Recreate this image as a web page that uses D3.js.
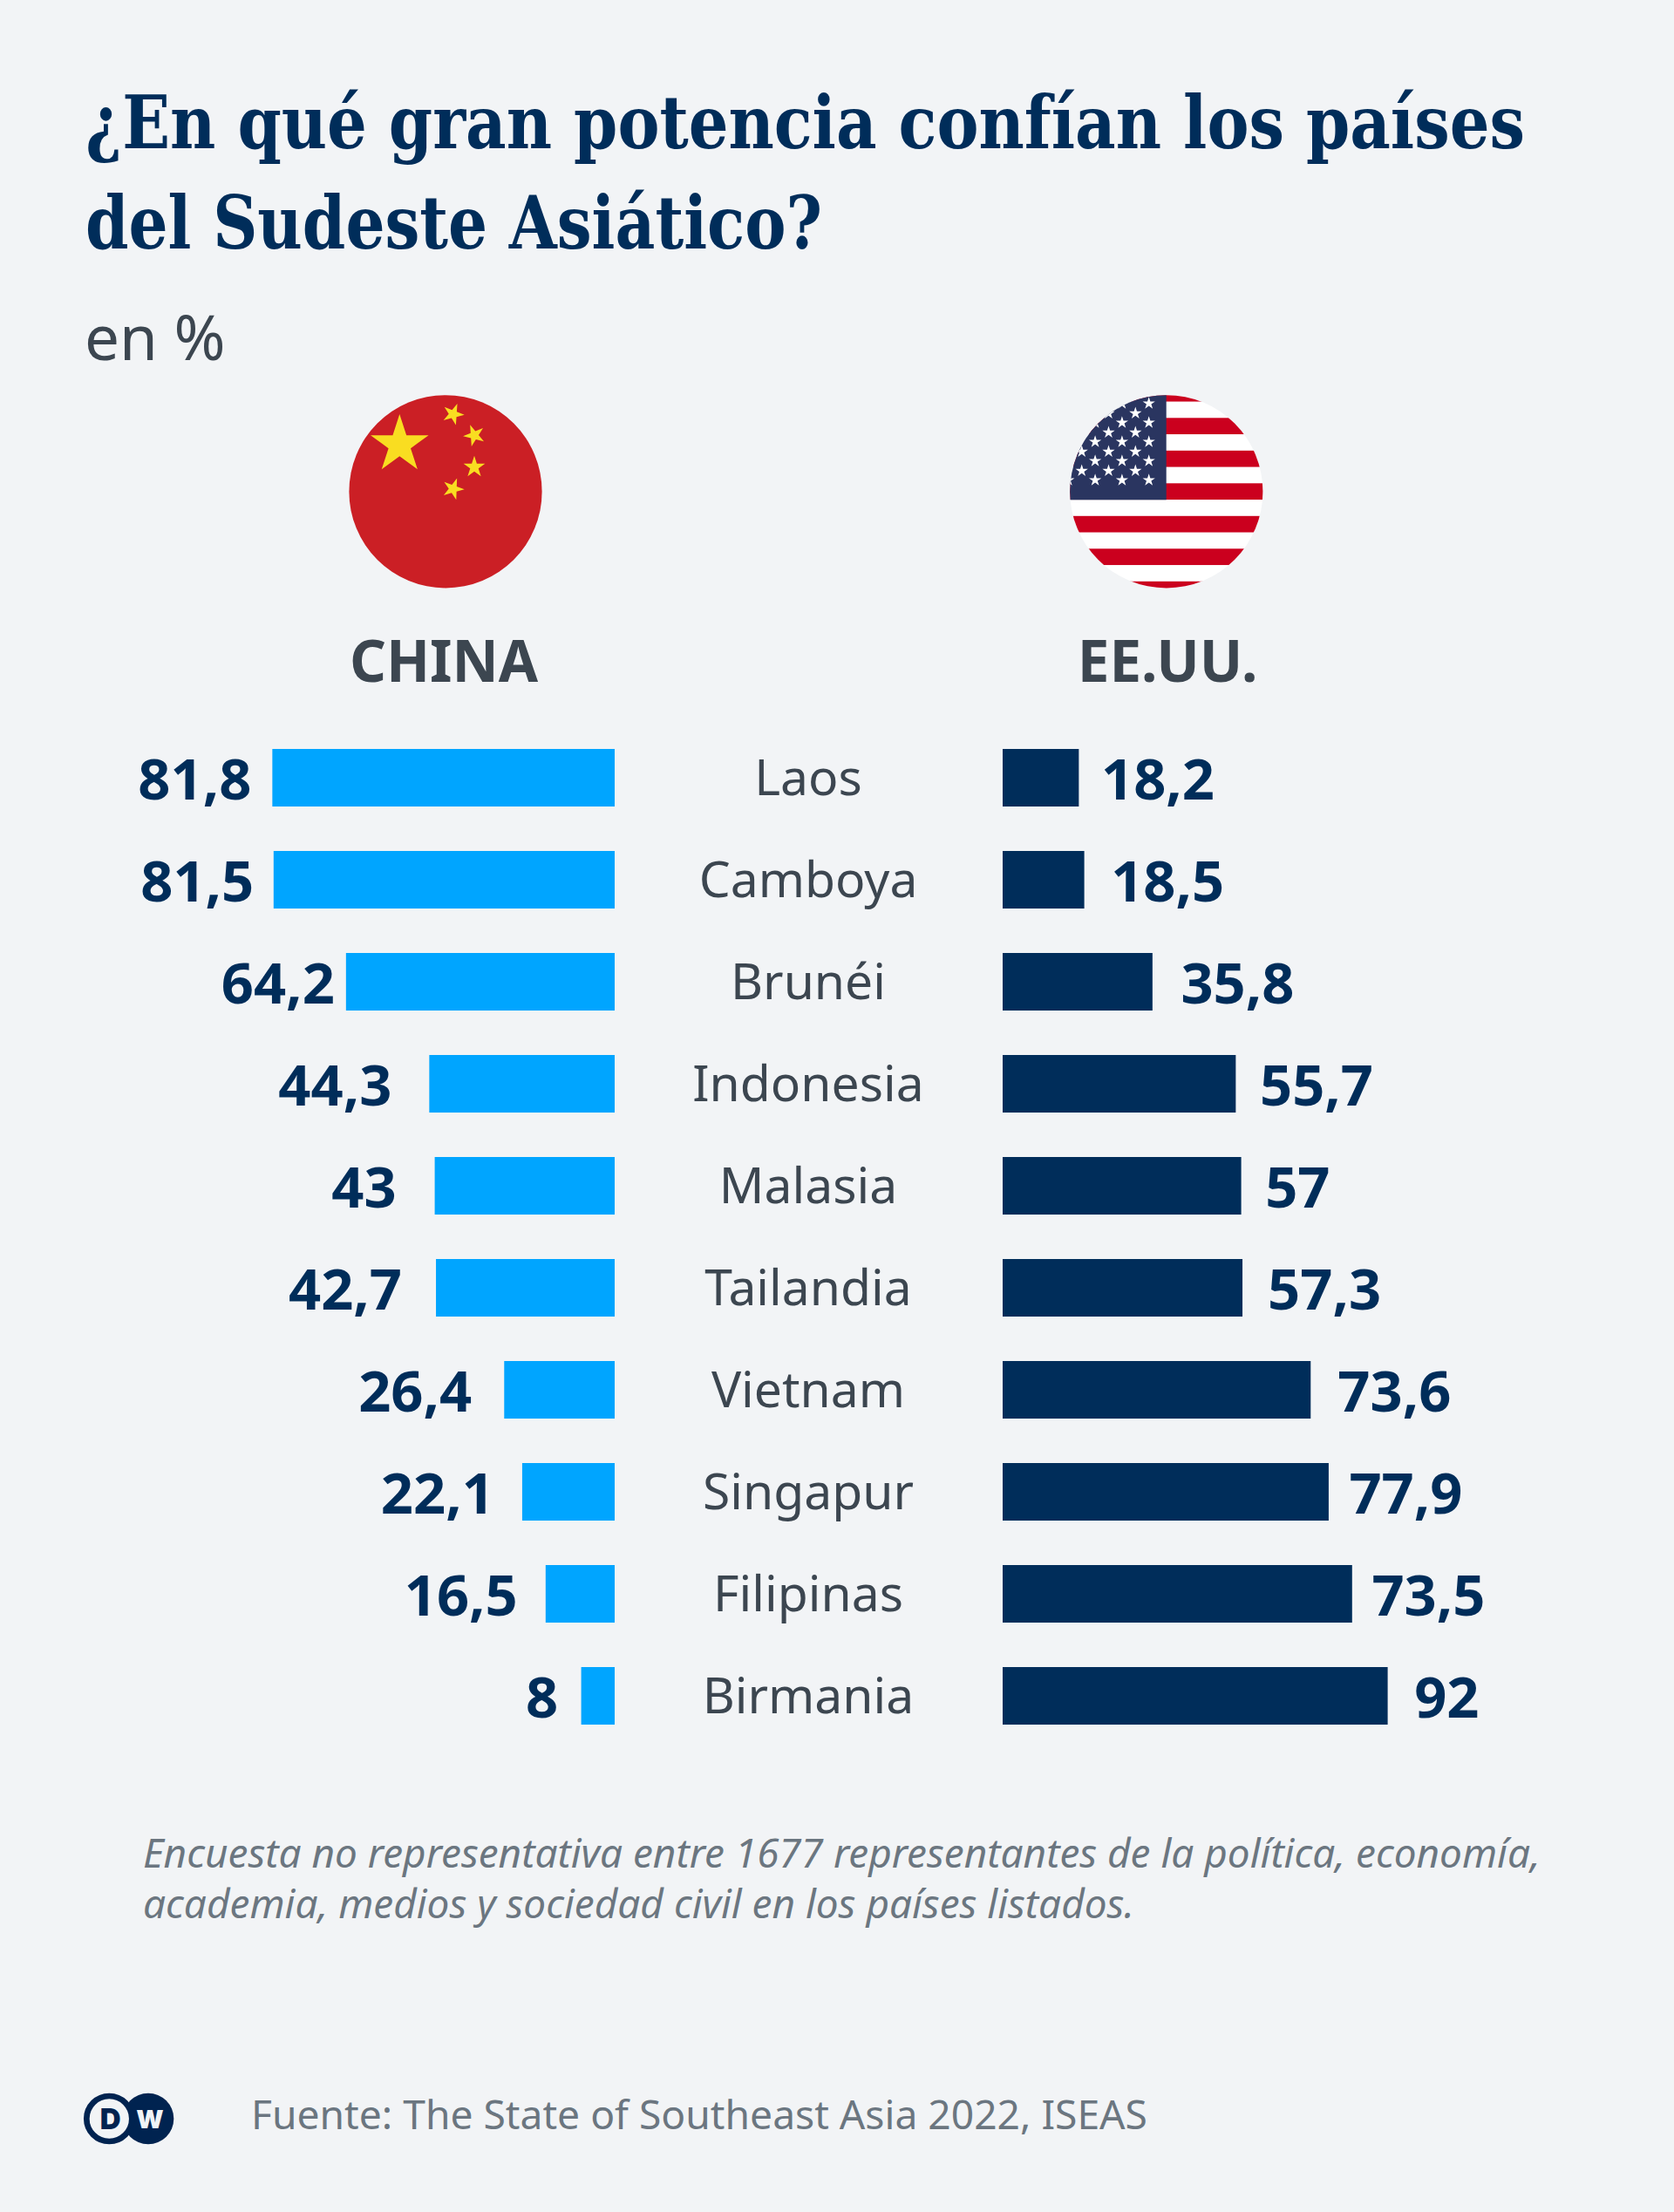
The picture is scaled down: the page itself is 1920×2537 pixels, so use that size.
<!DOCTYPE html>
<html><head><meta charset="utf-8">
<script src="https://cdn.jsdelivr.net/npm/d3@7/dist/d3.min.js"></script>
<style>html,body{margin:0;padding:0;background:#f2f4f6}svg{display:block}</style></head>
<body><svg id="c" width="1920" height="2537"></svg>
<script>
const countries=["Laos","Camboya","Brunéi","Indonesia","Malasia","Tailandia","Vietnam","Singapur","Filipinas","Birmania"];
const chinaValues=[81.8,81.5,64.2,44.3,43,42.7,26.4,22.1,16.5,8];
const usValues=[18.2,19.5,35.8,55.7,57,57.3,73.6,77.9,83.5,92];
const usLabels=["18,2","18,5","35,8","55,7","57","57,3","73,6","77,9","73,5","92"];
const chinaLabels=["81,8","81,5","64,2","44,3","43","42,7","26,4","22,1","16,5","8"];
const titleLines=["¿En qué gran potencia confían los países","del Sudeste Asiático?"];
const noteLines=["Encuesta no representativa entre 1677 representantes de la política, economía,","academia, medios y sociedad civil en los países listados."];
// hand-set label offsets and title fit of the original layout
const chinaGap=[24,22.5,13,43,44,39,37,32,32,26.5];
const usGap=[25.6,30.6,32.6,27.6,27.6,29,31,23.5,22.6,30.6];
const titleWidths=[1651,845];

const svg=d3.select("#c");
const navy="#002d5a",bg="#f2f4f6",sans="'Noto Sans','Open Sans',sans-serif";
const y=d3.scaleBand().domain(countries).range([833.5,2003.5]).paddingInner(51/117).paddingOuter(25.5/117);
const xC=d3.scaleLinear().domain([0,100]).range([705,225]);
const xU=d3.scaleLinear().domain([0,100]).range([1150,1630]);

svg.append("rect").attr("width",1920).attr("height",2537).attr("fill",bg);
svg.selectAll(".t").data(titleLines).join("text").attr("x",98).attr("y",(d,i)=>170+i*115)
 .attr("font-family","'DejaVu Serif',serif").attr("font-weight",700).style("font-stretch","condensed").attr("font-size",84)
 .attr("textLength",(d,i)=>titleWidths[i]).attr("lengthAdjust","spacingAndGlyphs").attr("fill",navy).text(d=>d);
svg.append("text").attr("x",97).attr("y",413).attr("font-family",sans).attr("font-size",71).attr("fill","#3c4650").text("en %");

function star(cx,cy,r,rot,fill,g){const p=[];for(let i=0;i<10;i++){const a=-Math.PI/2+rot+i*Math.PI/5,q=i%2?r*0.382:r;p.push([cx+q*Math.cos(a),cy+q*Math.sin(a)]);}
 g.append("polygon").attr("points",p.map(d=>d.join(",")).join(" ")).attr("fill",fill);}
const defs=svg.append("defs");
defs.append("clipPath").attr("id","cn").append("circle").attr("cx",511).attr("cy",563.8).attr("r",110.6);
defs.append("clipPath").attr("id","us").append("circle").attr("cx",1337.8).attr("cy",563.8).attr("r",110.6);
const cn=svg.append("g").attr("clip-path","url(#cn)");
cn.append("rect").attr("x",400).attr("y",450).attr("width",224).attr("height",228).attr("fill","#cb1f25");
star(458.3,510,35,0,"#f9dd21",cn);
[[519.7,475,.38],[544,499.3,-.38],[544,535.7,0],[519.7,560.7,.35]].forEach(s=>star(s[0],s[1],13,s[2],"#f9dd21",cn));
const us=svg.append("g").attr("clip-path","url(#us)");
us.append("rect").attr("x",1225).attr("y",450).attr("width",226).attr("height",228).attr("fill","#fff");
d3.range(7).forEach(i=>us.append("rect").attr("x",1225).attr("y",441.8+i*37.5).attr("width",226).attr("height",18.75).attr("fill","#cb001e"));
us.append("rect").attr("x",1225).attr("y",450).attr("width",112.7).attr("height",123.3).attr("fill","#2a3560");
d3.range(5).forEach(r=>d3.range(4).forEach(c=>star(1317.7-c*30.8,462.7+r*22,7.5,0,"#fff",us)));
d3.range(4).forEach(r=>d3.range(4).forEach(c=>star(1302.3-c*30.8,474+r*22,7.5,0,"#fff",us)));

svg.append("text").attr("x",509).attr("y",782).attr("text-anchor","middle").attr("font-family",sans).attr("font-weight",700).attr("font-size",65.5).attr("fill","#3c4650").text("CHINA");
svg.append("text").attr("x",1339).attr("y",782).attr("text-anchor","middle").attr("font-family",sans).attr("font-weight",700).attr("font-size",65.5).attr("fill","#3c4650").text("EE.UU.");

svg.selectAll(".bc").data(countries).join("rect").attr("x",(d,i)=>xC(chinaValues[i])).attr("y",d=>y(d)).attr("width",(d,i)=>705-xC(chinaValues[i])).attr("height",y.bandwidth()).attr("fill","#00a5ff");
svg.selectAll(".bu").data(countries).join("rect").attr("x",1150).attr("y",d=>y(d)).attr("width",(d,i)=>xU(usValues[i])-1150).attr("height",y.bandwidth()).attr("fill",navy);
svg.selectAll(".lc").data(countries).join("text").attr("x",(d,i)=>xC(chinaValues[i])-chinaGap[i]).attr("y",d=>y(d)+y.bandwidth()/2+24.5)
 .attr("text-anchor","end").attr("font-family",sans).attr("font-weight",700).attr("font-size",65).attr("fill",navy).text((d,i)=>chinaLabels[i]);
svg.selectAll(".lu").data(countries).join("text").attr("x",(d,i)=>xU(usValues[i])+usGap[i]).attr("y",d=>y(d)+y.bandwidth()/2+24.5)
 .attr("font-family",sans).attr("font-weight",700).attr("font-size",65).attr("fill",navy).text((d,i)=>usLabels[i]);
svg.selectAll(".n").data(countries).join("text").attr("x",927).attr("y",d=>y(d)+y.bandwidth()/2+20)
 .attr("text-anchor","middle").attr("font-family",sans).attr("font-size",57).attr("fill","#3c4650").text(d=>d);

svg.selectAll(".note").data(noteLines).join("text").attr("x",164).attr("y",(d,i)=>2142+i*58)
 .attr("font-family",sans).attr("font-style","italic").attr("font-size",45.9).attr("fill","#6b7680").text(d=>d);
const logo=svg.append("g");
logo.append("circle").attr("cx",170).attr("cy",2430).attr("r",29.3).attr("fill","#002350");
logo.append("circle").attr("cx",125.3).attr("cy",2430).attr("r",26).attr("fill",bg).attr("stroke","#002350").attr("stroke-width",6.7);
logo.append("text").attr("x",126.7).attr("y",2441.7).attr("text-anchor","middle").attr("font-family","'Inter',sans-serif").attr("font-weight",900).attr("font-size",33).attr("fill","#002350").text("D");
logo.append("text").attr("x",172).attr("y",2440.7).attr("text-anchor","middle").attr("font-family","'Inter',sans-serif").attr("font-weight",900).attr("font-size",29).attr("fill",bg).text("W");
svg.append("text").attr("x",288).attr("y",2442).attr("font-family",sans).attr("font-size",46.2).attr("fill","#6b7680").text("Fuente: The State of Southeast Asia 2022, ISEAS");
</script></body></html>
